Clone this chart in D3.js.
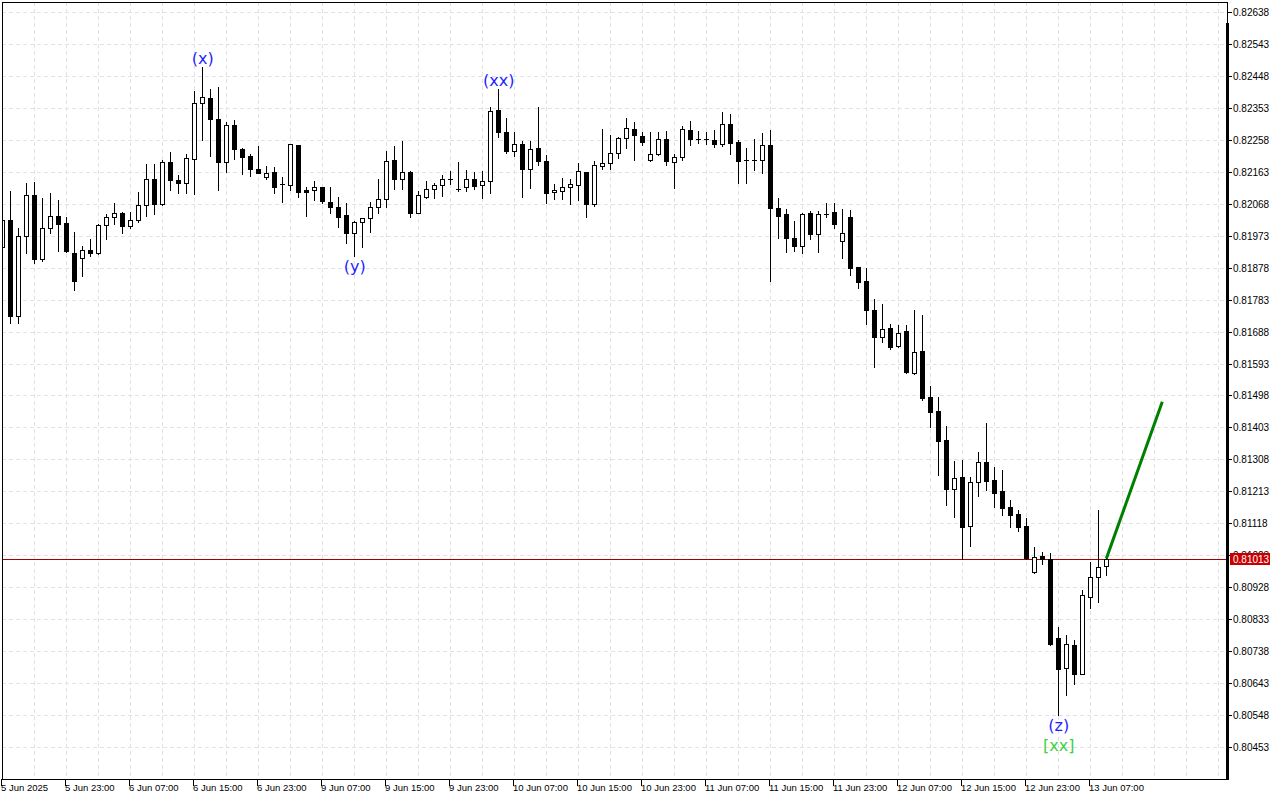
<!DOCTYPE html>
<html>
<head>
<meta charset="utf-8">
<script src="https://cdn.jsdelivr.net/npm/d3@7/dist/d3.min.js"></script>
<style>
  html, body { margin: 0; padding: 0; background: #fff; }
  svg { display: block; }
  text { font-family: "Liberation Sans", Arial, sans-serif; }
</style>
</head>
<body>
<div id="chart"></div>
<script>
// H1 bars, 5 Jun 15:00 .. 13 Jun 09:00
var opens = [0.81940,0.82020,0.81734,0.81972,0.82094,0.81904,0.81996,0.82032,0.82011,0.81922,
  0.81907,0.81931,0.81922,0.82005,0.82029,0.82041,0.82002,0.82020,0.82064,0.82142,
  0.82067,0.82192,0.82139,0.82130,0.82201,0.82367,0.82382,0.82320,0.82192,0.82302,
  0.82231,0.82210,0.82171,0.82148,0.82162,0.82127,0.82124,0.82243,0.82108,0.82109,
  0.82118,0.82073,0.82058,0.82035,0.81981,0.82014,0.82026,0.82058,0.82082,0.82198,
  0.82142,0.82162,0.82041,0.82088,0.82112,0.82124,0.82142,0.82112,0.82118,0.82142,
  0.82124,0.82136,0.82347,0.82281,0.82225,0.82246,0.82171,0.82234,0.82195,0.82103,
  0.82106,0.82118,0.82124,0.82162,0.82067,0.82180,0.82189,0.82219,0.82263,0.82290,
  0.82269,0.82198,0.82216,0.82260,0.82192,0.82207,0.82287,0.82260,0.82259,0.82258,
  0.82246,0.82305,0.82252,0.82198,0.82198,0.82198,0.82243,0.82055,0.82038,0.81966,
  0.81943,0.82041,0.81978,0.82036,0.82044,0.81957,0.82029,0.81880,0.81838,0.81752,
  0.81672,0.81699,0.81645,0.81690,0.81565,0.81630,0.81494,0.81452,0.81366,0.81220,
  0.81256,0.81110,0.81241,0.81300,0.81247,0.81214,0.81167,0.81146,0.81110,0.80973,
  0.81021,0.81012,0.80777,0.80688,0.80756,0.80670,0.80899,0.80958,0.80991];
var highs = [0.82038,0.82106,0.81996,0.82130,0.82133,0.82085,0.82100,0.82079,0.82029,0.81984,
  0.81943,0.81963,0.82008,0.82038,0.82070,0.82044,0.82044,0.82103,0.82186,0.82186,
  0.82198,0.82222,0.82154,0.82216,0.82403,0.82475,0.82409,0.82415,0.82311,0.82317,
  0.82234,0.82216,0.82240,0.82180,0.82177,0.82148,0.82247,0.82243,0.82118,0.82136,
  0.82119,0.82118,0.82088,0.82070,0.82017,0.82027,0.82073,0.82142,0.82225,0.82240,
  0.82255,0.82165,0.82106,0.82136,0.82130,0.82154,0.82165,0.82192,0.82168,0.82162,
  0.82165,0.82355,0.82409,0.82323,0.82281,0.82255,0.82255,0.82355,0.82213,0.82127,
  0.82145,0.82142,0.82189,0.82163,0.82195,0.82290,0.82272,0.82266,0.82323,0.82311,
  0.82281,0.82281,0.82281,0.82284,0.82216,0.82299,0.82314,0.82284,0.82281,0.82287,
  0.82341,0.82335,0.82258,0.82234,0.82260,0.82278,0.82287,0.82085,0.82052,0.82017,
  0.82041,0.82047,0.82047,0.82070,0.82070,0.82052,0.82050,0.81881,0.81877,0.81785,
  0.81770,0.81711,0.81708,0.81708,0.81752,0.81737,0.81526,0.81494,0.81407,0.81303,
  0.81306,0.81256,0.81330,0.81416,0.81285,0.81277,0.81187,0.81158,0.81134,0.81048,
  0.81033,0.81030,0.80810,0.80786,0.80771,0.80920,0.81003,0.81158,0.81018];
var lows = [0.81931,0.81714,0.81714,0.81922,0.81892,0.81898,0.81981,0.81928,0.81925,0.81812,
  0.81853,0.81913,0.81919,0.81963,0.82008,0.81981,0.81996,0.82014,0.82032,0.82038,
  0.82064,0.82109,0.82100,0.82100,0.82097,0.82258,0.82210,0.82109,0.82162,0.82201,
  0.82157,0.82151,0.82158,0.82142,0.82100,0.82073,0.82109,0.82088,0.82032,0.82079,
  0.82070,0.82041,0.81999,0.81951,0.81913,0.81940,0.81984,0.82041,0.82058,0.82112,
  0.82112,0.82029,0.82040,0.82085,0.82085,0.82091,0.82127,0.82106,0.82106,0.82112,
  0.82085,0.82100,0.82266,0.82219,0.82210,0.82088,0.82115,0.82183,0.82070,0.82082,
  0.82082,0.82067,0.82079,0.82029,0.82061,0.82171,0.82171,0.82204,0.82234,0.82198,
  0.82243,0.82195,0.82213,0.82183,0.82115,0.82198,0.82243,0.82249,0.82246,0.82237,
  0.82240,0.82216,0.82130,0.82130,0.82168,0.82159,0.81838,0.81966,0.81925,0.81928,
  0.81922,0.81963,0.81925,0.82029,0.81996,0.81907,0.81856,0.81818,0.81711,0.81583,
  0.81657,0.81636,0.81641,0.81565,0.81562,0.81485,0.81404,0.81262,0.81172,0.81137,
  0.81012,0.81051,0.81199,0.81217,0.81167,0.81143,0.81107,0.81095,0.81012,0.80970,
  0.80997,0.80756,0.80548,0.80608,0.80640,0.80669,0.80866,0.80884,0.80964];
var closes = [0.82020,0.81734,0.81972,0.82094,0.81904,0.81996,0.82032,0.82008,0.81928,0.81838,
  0.81931,0.81922,0.82005,0.82029,0.82041,0.82002,0.82020,0.82064,0.82142,0.82067,
  0.82192,0.82139,0.82130,0.82204,0.82367,0.82385,0.82320,0.82192,0.82302,0.82231,
  0.82207,0.82171,0.82160,0.82159,0.82118,0.82124,0.82246,0.82103,0.82104,0.82118,
  0.82076,0.82058,0.82029,0.81981,0.82014,0.82026,0.82058,0.82082,0.82195,0.82142,
  0.82162,0.82041,0.82094,0.82112,0.82124,0.82142,0.82139,0.82109,0.82142,0.82121,
  0.82136,0.82344,0.82281,0.82225,0.82246,0.82171,0.82231,0.82195,0.82100,0.82109,
  0.82118,0.82127,0.82165,0.82067,0.82183,0.82189,0.82219,0.82263,0.82293,0.82272,
  0.82252,0.82216,0.82260,0.82195,0.82207,0.82290,0.82260,0.82258,0.82260,0.82246,
  0.82305,0.82249,0.82195,0.82195,0.82198,0.82243,0.82055,0.82032,0.81966,0.81943,
  0.82038,0.81978,0.82038,0.82037,0.82008,0.81981,0.81877,0.81835,0.81752,0.81672,
  0.81696,0.81642,0.81684,0.81568,0.81627,0.81491,0.81449,0.81363,0.81220,0.81253,
  0.81107,0.81241,0.81300,0.81244,0.81208,0.81164,0.81143,0.81107,0.81015,0.81018,
  0.81012,0.80759,0.80685,0.80759,0.80670,0.80905,0.80958,0.80988,0.81013];

// one label every 8 bars
var timeLabels = ["5 Jun 2025","5 Jun 23:00","6 Jun 07:00","6 Jun 15:00","6 Jun 23:00",
  "9 Jun 07:00","9 Jun 15:00","9 Jun 23:00","10 Jun 07:00","10 Jun 15:00","10 Jun 23:00",
  "11 Jun 07:00","11 Jun 15:00","11 Jun 23:00","12 Jun 07:00","12 Jun 15:00","12 Jun 23:00",
  "13 Jun 07:00"];
var priceTicks = ["0.82638","0.82543","0.82448","0.82353","0.82258","0.82163","0.82068",
  "0.81973","0.81878","0.81783","0.81688","0.81593","0.81498","0.81403","0.81308","0.81213",
  "0.81118","0.81023","0.80928","0.80833","0.80738","0.80643","0.80548","0.80453"];

// wave marks: bar, side, text, colour
var waveBars = [25, 44, 62, 132, 132];
var waveSides = ["high", "low", "high", "low", "low2"];
var waveTexts = ["(x)", "(y)", "(xx)", "(z)", "[xx]"];
var waveColors = ["#1f1fff", "#1f1fff", "#1f1fff", "#1f1fff", "#3fcf3f"];

// projection line
var projBars = [138, 145];
var projPrices = [0.81013, 0.81479];
var lastPrice = 0.81013;

var W = 1280, H = 800;
// plot frame (note: "top" is taken by window.top)
var pLeft = 2, pRight = 1227, pTop = 2, pBottom = 779;

var svg = d3.select("#chart").append("svg")
  .attr("width", W)
  .attr("height", H);

var x = d3.scaleLinear().domain([0, 153]).range([2.3, 1226.3]);
var y = d3.scaleLinear().domain([0.80453, 0.82638]).range([747, 12]);

svg.append("defs").append("clipPath").attr("id", "plot")
  .append("rect")
  .attr("x", pLeft + 1).attr("y", pTop + 1)
  .attr("width", pRight - pLeft - 1).attr("height", pBottom - pTop - 1);

// grid
var grid = svg.append("g").attr("stroke", "#e2e2e2").attr("stroke-dasharray", "4,3");
grid.selectAll(".hg")
  .data(priceTicks)
  .enter()
  .append("line")
    .attr("x1", pLeft).attr("x2", pRight)
    .attr("y1", function(d) { return Math.round(y(+d)) + 0.5; })
    .attr("y2", function(d) { return Math.round(y(+d)) + 0.5; });
grid.selectAll(".vg")
  .data(d3.range(4, 153, 4))
  .enter()
  .append("line")
    .attr("x1", function(d) { return Math.round(x(d)) + 0.5; })
    .attr("x2", function(d) { return Math.round(x(d)) + 0.5; })
    .attr("y1", pTop).attr("y2", pBottom);

// current price line
svg.append("line")
  .attr("x1", pLeft).attr("x2", pRight)
  .attr("y1", Math.round(y(lastPrice)) + 0.5)
  .attr("y2", Math.round(y(lastPrice)) + 0.5)
  .attr("stroke", "#a80000").attr("stroke-width", 1);

function bodyH(d) {
  return Math.round(y(Math.min(d.o, d.c))) - Math.round(y(Math.max(d.o, d.c)));
}
function hollow(d) {
  return d.c >= d.o && bodyH(d) > 1;
}

// candles
var bars = d3.range(opens.length).map(function(i) {
  return {i: i, o: opens[i], h: highs[i], l: lows[i], c: closes[i]};
});
var candles = svg.append("g").attr("clip-path", "url(#plot)");
var cg = candles.selectAll(".candle")
  .data(bars)
  .enter()
  .append("g")
    .attr("class", "candle");
cg.append("line")
  .attr("x1", function(d) { return Math.round(x(d.i)) + 0.5; })
  .attr("x2", function(d) { return Math.round(x(d.i)) + 0.5; })
  .attr("y1", function(d) { return Math.round(y(d.h)); })
  .attr("y2", function(d) { return Math.round(y(d.l)) + 1; })
  .attr("stroke", "#000").attr("stroke-width", 1);
cg.append("rect")
  .attr("x", function(d) {
    var cx = Math.round(x(d.i));
    return hollow(d) ? cx - 1.5 : cx - 2;
  })
  .attr("y", function(d) {
    var t = Math.round(y(Math.max(d.o, d.c)));
    return hollow(d) ? t + 0.5 : t;
  })
  .attr("width", function(d) { return hollow(d) ? 4 : 5; })
  .attr("height", function(d) {
    var h = bodyH(d);
    return hollow(d) ? h : Math.max(h, 1) + (h > 1 ? 1 : 0);
  })
  .attr("fill", function(d) { return hollow(d) ? "#fff" : "#000"; })
  .attr("stroke", function(d) { return hollow(d) ? "#000" : "none"; })
  .attr("stroke-width", 1);

// projection
svg.append("line")
  .attr("x1", x(projBars[0])).attr("y1", y(projPrices[0]))
  .attr("x2", x(projBars[1])).attr("y2", y(projPrices[1]))
  .attr("stroke", "#008000").attr("stroke-width", 3);

// wave labels
svg.selectAll(".wave")
  .data(waveTexts)
  .enter()
  .append("text")
    .attr("class", "wave")
    .attr("x", function(d, i) { return x(waveBars[i]) + 0.5; })
    .attr("y", function(d, i) {
      var b = bars[waveBars[i]];
      if (waveSides[i] === "high") return y(b.h) - 3;
      if (waveSides[i] === "low") return y(b.l) + 16;
      return y(b.l) + 36;
    })
    .attr("text-anchor", "middle")
    .attr("fill", function(d, i) { return waveColors[i]; })
    .style("font-family", "'DejaVu Sans', sans-serif")
    .style("font-size", "16px")
    .text(function(d) { return d; });

// frame
svg.append("rect")
  .attr("x", pLeft + 0.5).attr("y", pTop + 0.5)
  .attr("width", pRight - pLeft).attr("height", pBottom - pTop)
  .attr("fill", "none").attr("stroke", "#000").attr("stroke-width", 1);
svg.append("line")
  .attr("x1", pRight + 0.5).attr("x2", pRight + 0.5)
  .attr("y1", 23).attr("y2", pBottom + 1)
  .attr("stroke", "#000").attr("stroke-width", 3);

// price axis
var pa = svg.append("g");
pa.selectAll(".pt")
  .data(priceTicks)
  .enter()
  .append("line")
    .attr("x1", pRight).attr("x2", pRight + 5)
    .attr("y1", function(d) { return Math.round(y(+d)) + 0.5; })
    .attr("y2", function(d) { return Math.round(y(+d)) + 0.5; })
    .attr("stroke", "#000");
pa.selectAll(".pl")
  .data(priceTicks)
  .enter()
  .append("text")
    .attr("x", pRight + 6)
    .attr("y", function(d) { return Math.round(y(+d)) + 4; })
    .attr("fill", "#000")
    .style("font-size", "10px")
    .text(function(d) { return d; });

// last price tag
var ly = Math.round(y(lastPrice));
pa.append("rect")
  .attr("x", pRight + 3).attr("y", ly - 6)
  .attr("width", 40).attr("height", 12)
  .attr("fill", "#c80000");
pa.append("text")
  .attr("x", pRight + 6).attr("y", ly + 4)
  .attr("fill", "#fff")
  .style("font-size", "10px")
  .text(lastPrice.toFixed(5));

// time axis
var ta = svg.append("g");
ta.selectAll(".tt")
  .data(timeLabels)
  .enter()
  .append("line")
    .attr("x1", function(d, i) { return Math.round(x(i * 8)) - 0.5; })
    .attr("x2", function(d, i) { return Math.round(x(i * 8)) - 0.5; })
    .attr("y1", pBottom).attr("y2", pBottom + 7)
    .attr("stroke", "#000");
ta.selectAll(".tl")
  .data(timeLabels)
  .enter()
  .append("text")
    .attr("x", function(d, i) { return Math.round(x(i * 8)) - 1; })
    .attr("y", pBottom + 12)
    .attr("fill", "#000")
    .style("font-size", "9.5px")
    .text(function(d) { return d; });
</script>
</body>
</html>
